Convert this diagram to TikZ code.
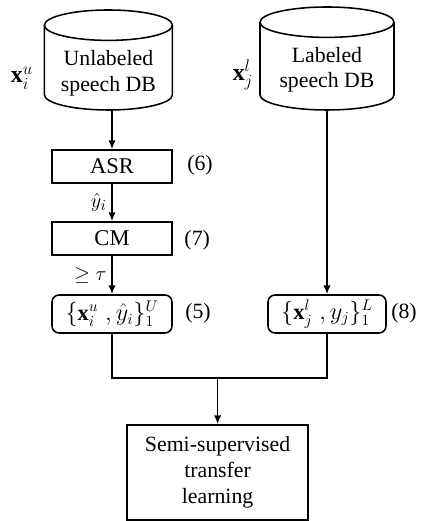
\documentclass[tikz,border=0pt]{standalone}
\usepackage{amsmath,amssymb}
\usepackage{fontspec}
\setmainfont{Liberation Serif}
\usetikzlibrary{arrows.meta}

\tikzset{
  dbtext/.style={align=center, font=\fontsize{15.5}{18}\selectfont},
  procbox/.style={draw, rectangle, minimum width=3cm, minimum height=0.83cm,
    font=\fontsize{16}{17}\selectfont},
  setbox/.style={procbox, rounded corners=5pt, minimum height=0.95cm,
    font=\fontsize{16}{18}\selectfont},
  eqlabel/.style={font=\fontsize{15.5}{17}\selectfont},
}

\begin{document}
\begin{tikzpicture}[line width=1.1pt, >={Latex[length=2.2mm,width=1.8mm]}]
        \useasboundingbox (0,0) rectangle (10.55,13.025);

        % unlabeled database
        \draw (1.11,12.395) -- (1.11,10.655)
          arc[start angle=180, end angle=360, x radius=1.6, y radius=0.38] -- (4.31,12.395);
        \draw (2.71,12.395) ellipse[x radius=1.6, y radius=0.38];
        \coordinate (unlab) at (2.71,10.275);
        \node[dbtext] (unlabtxt) at (2.71,11.19) {Unlabeled\\speech DB};

        % labeled database
        \draw (6.5,12.47) -- (6.5,10.655)
          arc[start angle=180, end angle=360, x radius=1.675, y radius=0.38] -- (9.85,12.47);
        \draw (8.175,12.47) ellipse[x radius=1.675, y radius=0.38];
        \coordinate (lab) at (8.175,10.275);
        \node[dbtext] (labtxt) at (8.175,11.275) {Labeled\\speech DB};

        \node[eqlabel, font=\fontsize{17}{19}\selectfont] (xu) at (0.55,11.075) {$\mathbf{x}_i^u$};
        \node[eqlabel, font=\fontsize{17}{19}\selectfont] (xl) at (6.075,11.15) {$\mathbf{x}_j^l$};

        % unlabeled branch
        \node[procbox] (asr) at (2.8,8.86) {ASR};
        \node[procbox] (cm) at (2.8,7.06) {CM};
        \node[setbox] (setu) at (2.8,5.175) {$\{\mathbf{x}_i^u\;,\hat{y}_i\}_1^U$};
        \node[eqlabel] (eq6) at (5.0,8.9) {(6)};
        \node[eqlabel] (eq7) at (4.93,7.03) {(7)};
        \node[eqlabel] (eq5) at (4.95,5.2) {(5)};

        % labeled branch
        \node[setbox, minimum width=2.95cm] (setl) at (8.175,5.175) {$\{\mathbf{x}_j^l\;,y_j\}_1^L$};
        \node[eqlabel] (eq8) at (10.1,5.2) {(8)};

        % transfer learning
        \node[procbox, minimum width=4.525cm, minimum height=2.375cm, align=center,
          font=\fontsize{15.5}{18.5}\selectfont] (stl) at (5.44,1.2125)
          {Semi-supervised\\transfer\\learning};
        \coordinate (join) at (5.44,3.575);

        \draw[->] ([yshift=0.02cm]unlab -| asr.north) -- (asr.north);
        \draw[->] (asr) -- node[left,eqlabel] {$\hat{y}_i$} (cm);
        \draw[->] (cm) -- node[left,eqlabel] {$\geq\tau$} (setu);
        \draw[->] (lab) -- (setl.north);
        \draw (setu.south) |- (join) -| (setl.south);
        \draw[->] (join) -- (stl.north);
    \end{tikzpicture}
\end{document}
